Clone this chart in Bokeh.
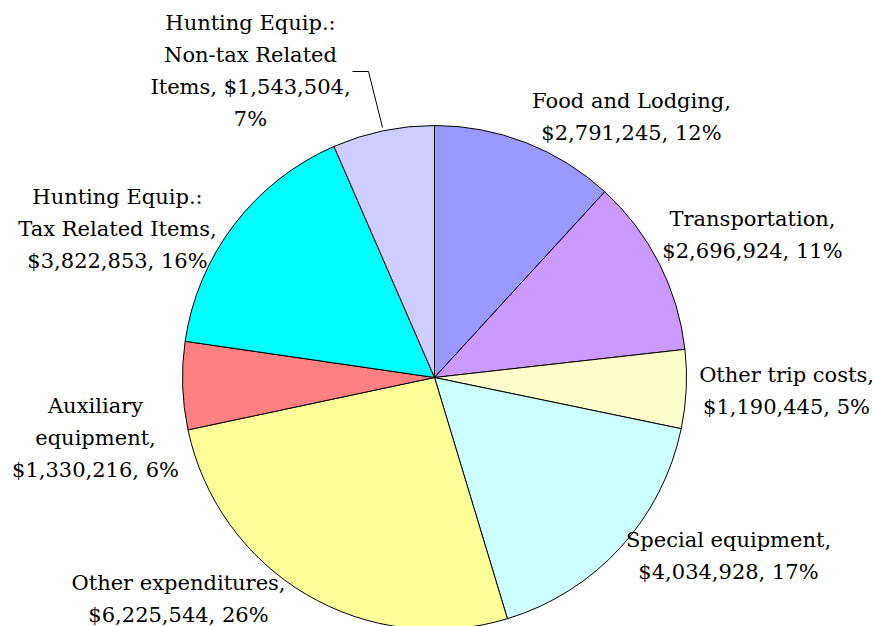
from bokeh.plotting import figure
from bokeh.models import ColumnDataSource, Range1d
from bokeh.core.properties import value
from bokeh.embed import file_html
from bokeh.resources import INLINE
import math

categories = ["Food and Lodging", "Transportation", "Other trip costs",
              "Special equipment", "Other expenditures", "Auxiliary equipment",
              "Hunting Equip.: Tax Related Items", "Hunting Equip.: Non-tax Related Items"]
amounts = [2791245, 2696924, 1190445, 4034928, 6225544, 1330216, 3822853, 1543504]
colors = ["#9999FF", "#CC99FF", "#FFFFCC", "#CCFFFF", "#FFFF99", "#FF8080", "#00FFFF", "#CCCCFF"]
label_text = [
    "Food and Lodging,\n$2,791,245, 12%",
    "Transportation,\n$2,696,924, 11%",
    "Other trip costs,\n$1,190,445, 5%",
    "Special equipment,\n$4,034,928, 17%",
    "Other expenditures,\n$6,225,544, 26%",
    "Auxiliary\nequipment,\n$1,330,216, 6%",
    "Hunting Equip.:\nTax Related Items,\n$3,822,853, 16%",
    "Hunting Equip.:\nNon-tax Related\nItems, $1,543,504,\n7%",
]
# label centres (page pixel coordinates)
label_x = [631, 752, 786, 728, 178, 95, 117, 250]
label_y = [116, 234, 390, 555, 598, 437, 228, 70]

W, H = 873, 626
cx, cy, r = 434, 377, 252
LINE = 32

def py(y):
    return H - y

total = float(sum(amounts))
starts, ends = [], []
a = math.pi / 2
for v in amounts:
    e = a - 2 * math.pi * v / total
    starts.append(e)
    ends.append(a)
    a = e

src = ColumnDataSource(dict(start=starts, end=ends, color=colors))

p = figure(width=W, height=H, output_backend="svg", toolbar_location=None,
           x_range=Range1d(0, W), y_range=Range1d(0, H),
           min_border=0, outline_line_color=None)
p.axis.visible = False
p.grid.visible = False

p.wedge(x=cx, y=py(cy), radius=r, start_angle="start", end_angle="end",
        fill_color="color", line_color="black", line_width=1, source=src)

xs, ys, ts = [], [], []
for lx, ly, t in zip(label_x, label_y, label_text):
    lines = t.split("\n")
    n = len(lines)
    for i, ln in enumerate(lines):
        xs.append(lx)
        ys.append(py(ly + (i - (n - 1) / 2) * LINE))
        ts.append(ln)

lsrc = ColumnDataSource(dict(x=xs, y=ys, t=ts))
p.text(x="x", y="y", text="t", source=lsrc, text_align="center", text_baseline="middle",
       text_font=value("DejaVu Serif"), text_font_size="21px", text_color="black")

# leader line for the small top slice
p.line(x=[352, 368, 382], y=[py(71), py(71), py(127)], line_color="black", line_width=1)

open("out.html", "w").write(file_html(p, INLINE))
